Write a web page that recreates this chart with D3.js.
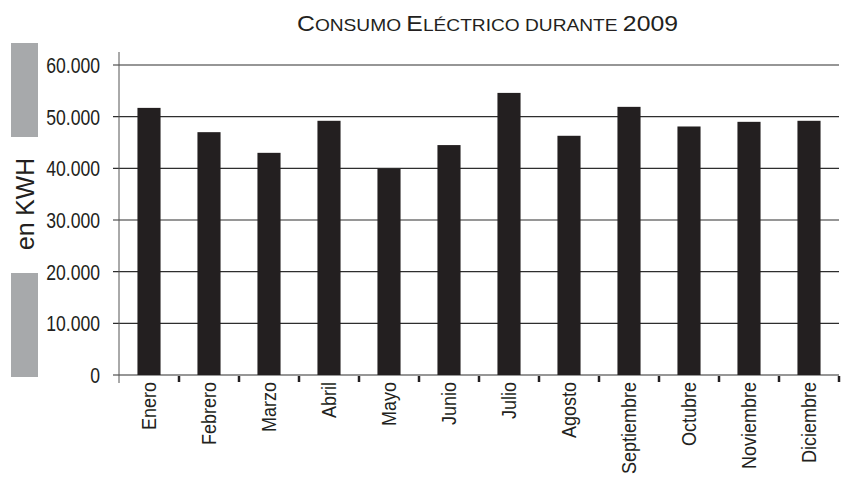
<!DOCTYPE html>
<html>
<head>
<meta charset="utf-8">
<script src="https://cdn.jsdelivr.net/npm/d3@7"></script>
<style>
  body { margin: 0; background: #fff; }
  text { font-family: "Liberation Sans", Arial, Helvetica, sans-serif; fill: #231f20; }
</style>
</head>
<body>
<div id="chart"></div>
<script>
var svgWidth = 851;
var svgHeight = 477;

// data
var months = ["Enero", "Febrero", "Marzo", "Abril", "Mayo", "Junio",
  "Julio", "Agosto", "Septiembre", "Octubre", "Noviembre", "Diciembre"];
var consumo = [51700, 47000, 43000, 49200, 39900, 44500,
  54600, 46300, 51900, 48100, 49000, 49200];
var yTicks = [0, 10000, 20000, 30000, 40000, 50000, 60000];

var margin = { top: 65, right: 12, bottom: 102, left: 119 };
var width = svgWidth - margin.left - margin.right;   // 720
var height = svgHeight - margin.top - margin.bottom; // 310

var svg = d3.select("#chart")
  .append("svg")
  .attr("width", svgWidth)
  .attr("height", svgHeight);

var chartGroup = svg.append("g")
  .attr("transform", `translate(${margin.left}, ${margin.top})`);

var x = d3.scaleBand()
  .domain(months)
  .range([0, width]);

var y = d3.scaleLinear()
  .domain([0, 60000])
  .range([height, 0]);

var fmt = d3.formatLocale({ decimal: ",", thousands: ".", grouping: [3], currency: ["", ""] }).format(",");

// squeeze text along its length (the original font is a condensed one)
function squeeze(sel, k) {
  sel.each(function () {
    var len = this.getComputedTextLength();
    d3.select(this).attr("textLength", len * k).attr("lengthAdjust", "spacingAndGlyphs");
  });
}

// grid lines
chartGroup.append("g")
  .selectAll("line")
  .data(yTicks)
  .enter()
  .append("line")
  .attr("x1", -6)
  .attr("x2", width)
  .attr("y1", d => y(d))
  .attr("y2", d => y(d))
  .attr("stroke", "#2e2e2e")
  .attr("stroke-width", 1.2);

// vertical axis line
chartGroup.append("line")
  .attr("x1", 0).attr("x2", 0)
  .attr("y1", y(60000) - 13)
  .attr("y2", y(0) + 8)
  .attr("stroke", "#555")
  .attr("stroke-width", 1);

// ticks under the x axis at the band edges
chartGroup.append("g")
  .selectAll("line")
  .data(months)
  .enter()
  .append("line")
  .attr("x1", d => x(d) + x.bandwidth())
  .attr("x2", d => x(d) + x.bandwidth())
  .attr("y1", height + 1)
  .attr("y2", height + 7)
  .attr("stroke", "#231f20")
  .attr("stroke-width", 2.5);

// y axis labels
var leftAxis = d3.axisLeft(y)
  .tickValues(yTicks)
  .tickFormat(fmt)
  .tickSize(0)
  .tickPadding(19);

var yAxis = chartGroup.append("g").call(leftAxis);
yAxis.select(".domain").remove();
yAxis.selectAll("text")
  .attr("font-size", "22px")
  .attr("font-family", "\"Liberation Sans\", Arial, sans-serif")
  .attr("fill", "#231f20")
  .attr("dy", "0.34em")
  .call(squeeze, 0.8);

// bars
var barW = x.bandwidth() * 0.385;
chartGroup.selectAll("rect.bar")
  .data(consumo)
  .enter()
  .append("rect")
  .attr("class", "bar")
  .attr("x", (d, i) => x(months[i]) + x.bandwidth() / 2 - barW / 2)
  .attr("y", d => y(d))
  .attr("width", barW)
  .attr("height", d => height - y(d))
  .attr("fill", "#231f20");

// month labels
chartGroup.selectAll("text.month")
  .data(months)
  .enter()
  .append("text")
  .attr("class", "month")
  .attr("transform", d => `translate(${x(d) + x.bandwidth() / 2 + 7}, ${height + 7}) rotate(-90)`)
  .attr("text-anchor", "end")
  .attr("font-size", "20px")
  .text(d => d)
  .call(squeeze, 0.9);

// grey boxes behind the y label
svg.append("rect")
  .attr("x", 11).attr("y", 43)
  .attr("width", 27).attr("height", 94)
  .attr("fill", "#a7a9ab");
svg.append("rect")
  .attr("x", 11).attr("y", 273)
  .attr("width", 27).attr("height", 104)
  .attr("fill", "#a7a9ab");

svg.append("text")
  .attr("transform", "translate(34, 204) rotate(-90)")
  .attr("text-anchor", "middle")
  .attr("font-size", "26px")
  .text("en KWH")
  .call(squeeze, 0.95);

// title in small caps
var title = svg.append("text")
  .attr("x", 297)
  .attr("y", 31);
var parts = [["C", 22], ["ONSUMO ", 17], ["E", 22], ["LÉCTRICO DURANTE ", 17], ["2009", 22]];
parts.forEach(function (p) {
  title.append("tspan").attr("font-size", p[1] + "px").text(p[0]);
});
title.attr("textLength", 381).attr("lengthAdjust", "spacingAndGlyphs");
</script>
</body>
</html>
